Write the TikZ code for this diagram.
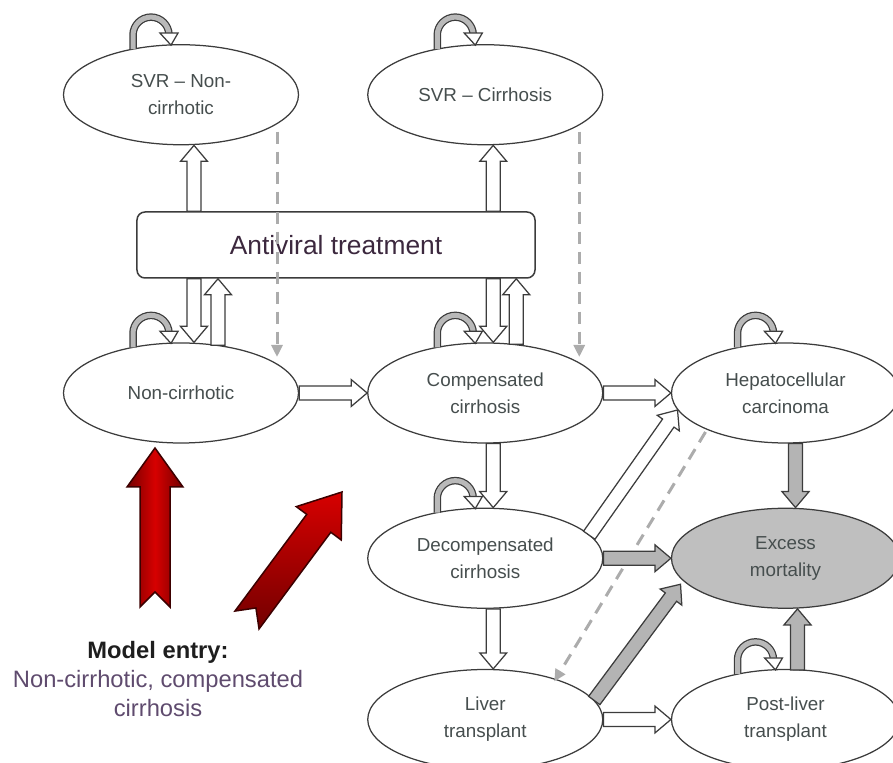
\documentclass[tikz,border=0pt]{standalone}
\usepackage{fontspec}
\setmainfont{Liberation Sans}
\usepackage{tikz}
\usetikzlibrary{arrows.meta,positioning,calc,shapes.geometric}
\definecolor{LineGrey}{RGB}{60,60,60}
\definecolor{TextGrey}{RGB}{70,78,78}
\definecolor{LoopGrey}{RGB}{185,185,185}
\definecolor{ArrowGrey}{RGB}{180,180,180}
\definecolor{DeathGrey}{RGB}{191,191,191}
\definecolor{DashGrey}{RGB}{172,172,172}
\definecolor{TreatText}{RGB}{60,40,62}
\definecolor{EntryBlack}{RGB}{30,30,30}
\definecolor{EntryPurple}{RGB}{95,75,110}
\definecolor{RedBright}{RGB}{215,0,0}
\definecolor{RedDark}{RGB}{115,0,0}
\definecolor{RedEdge}{RGB}{60,0,0}

% block arrow between two points: [style]{from}{to}
\newcommand{\blockarrow}[3][hollowarrow]{%
  \path (#2) coordinate (ba-s) (#3) coordinate (ba-e);
  \path ($(ba-e)!3.2mm!(ba-s)$) coordinate (ba-h);
  \filldraw[#1] ($(ba-s)!1.4mm!90:(ba-e)$) -- ($(ba-h)!1.4mm!90:(ba-e)$)
    -- ($(ba-h)!2.7mm!90:(ba-e)$) -- (ba-e) -- ($(ba-h)!2.7mm!-90:(ba-e)$)
    -- ($(ba-h)!1.4mm!-90:(ba-e)$) -- ($(ba-s)!1.4mm!-90:(ba-e)$) -- cycle;
}
% curved arrow back into the same state
\newcommand{\selfloop}[1]{%
  \begin{scope}[shift={(#1.north)}]
    \draw[loopband] (-48,-5) -- (-48,9) arc[start angle=180, end angle=0, radius=18];
    \filldraw[hollowarrow] (-21,11) -- (-3,11) -- (-10,-1) -- cycle;
  \end{scope}
}
% red entry arrow with notched tail: [shading]{tail}{tip}
\newcommand{\entryarrow}[3][redside]{%
  \path (#2) coordinate (ea-s) (#3) coordinate (ea-e);
  \path ($(ea-e)!7.8mm!(ea-s)$) coordinate (ea-h) ($(ea-s)!3mm!(ea-e)$) coordinate (ea-n);
  \shade[draw=RedEdge, line width=0.3mm, #1]
    ($(ea-s)!3mm!90:(ea-e)$) -- ($(ea-h)!3mm!90:(ea-e)$) -- ($(ea-h)!5.6mm!90:(ea-e)$)
    -- (ea-e) -- ($(ea-h)!5.6mm!-90:(ea-e)$) -- ($(ea-h)!3mm!-90:(ea-e)$)
    -- ($(ea-s)!3mm!-90:(ea-e)$) -- (ea-n) -- cycle;
}

\begin{document}
\begin{tikzpicture}[x=0.2mm, y=0.2mm,
    healthstate/.style={ellipse, draw=LineGrey, line width=0.25mm, fill=white, minimum width=47mm, minimum height=20mm, inner sep=1pt, align=center, text=TextGrey, font=\fontsize{10.7}{15.5}\selectfont},
    narrowstate/.style={healthstate, minimum width=45.6mm},
    deathstate/.style={narrowstate, fill=DeathGrey},
    treatbox/.style={draw=LineGrey, line width=0.3mm, fill=white, rounded corners=1.6mm, minimum width=79.6mm, minimum height=13.2mm, text=TreatText, font=\fontsize{15}{18}\selectfont},
    entrytext/.style={align=center, text=EntryBlack, font=\fontsize{13.5}{16.4}\selectfont},
    hollowarrow/.style={draw=LineGrey, line width=0.25mm, fill=white},
    greyarrow/.style={hollowarrow, fill=ArrowGrey},
    loopband/.style={draw=LineGrey, line width=0.25mm, double=LoopGrey, double distance=1mm},
    retreat/.style={draw=DashGrey, line width=0.6mm, dash pattern=on 2.4mm off 1.6mm, -{Triangle[width=2.2mm,length=2.4mm]}},
    redside/.style={left color=RedDark, right color=RedDark, middle color=RedBright},
    redslant/.style={top color=RedBright, bottom color=RedDark}]
    \useasboundingbox (0,0) rectangle (893,763);

    % states
    \node [healthstate] (nc) at (181,370) {Non-cirrhotic};
    \node [healthstate, right=13.6mm of nc] (cc) {Compensated\\cirrhosis};
    \node [narrowstate, right=13.5mm of cc] (hcc) {Hepatocellular\\carcinoma};
    \node [healthstate, below=12.8mm of cc] (dc) {Decompensated\\cirrhosis};
    \node [deathstate, below=12.8mm of hcc] (em) {Excess\\mortality};
    \node [healthstate, below=12mm of dc] (lt) {Liver\\transplant};
    \node [narrowstate, below=12mm of em] (plt) {Post-liver\\transplant};
    \node [healthstate, above=39.4mm of nc] (svrn) {SVR – Non-\\cirrhotic};
    \node [healthstate, above=39.4mm of cc] (svrc) {SVR – Cirrhosis};
    \node [treatbox] (av) at (336,518) {Antiviral treatment};
    \node [entrytext] (entry) at (158,84) {\textbf{Model entry:}\\\textcolor{EntryPurple}{Non-cirrhotic, compensated}\\\textcolor{EntryPurple}{cirrhosis}};

    % retreatment after SVR / recurrence after transplant
    \draw [retreat] ($(svrn.center)+(96,-37)$) -- ($(nc.center)+(96,36)$);
    \draw [retreat] ($(svrc.center)+(94,-37)$) -- ($(cc.center)+(94,36)$);
    \draw [retreat] ($(hcc.center)+(-80,-39)$) -- ($(lt.center)+(69,38)$);

    % treatment
    \blockarrow{$(av.north -| svrn.south)+(13,0)$}{$(svrn.south)+(13,0)$}
    \blockarrow{$(av.north -| svrc.south)+(8,0)$}{$(svrc.south)+(8,0)$}
    \blockarrow{$(av.south -| nc.north)+(13,0)$}{$(nc.north)+(13,0)$}
    \blockarrow{$(nc.north)+(37,-3)$}{$(av.south -| nc.north)+(37,0)$}
    \blockarrow{$(av.south -| cc.north)+(8,0)$}{$(cc.north)+(8,0)$}
    \blockarrow{$(cc.north)+(31,-2)$}{$(av.south -| cc.north)+(31,0)$}

    % progression
    \blockarrow{nc.east}{cc.west}
    \blockarrow{cc.east}{hcc.west}
    \blockarrow{$(cc.south)+(8,0)$}{$(dc.north)+(8,0)$}
    \blockarrow{$(dc.center)+(104,23)$}{$(hcc.center)+(-108,-17)$}
    \blockarrow{$(dc.south)+(8,0)$}{$(lt.north)+(8,0)$}
    \blockarrow{lt.east}{plt.west}

    % death
    \blockarrow[greyarrow]{$(hcc.south)+(10,0)$}{$(em.north)+(10,0)$}
    \blockarrow[greyarrow]{dc.east}{em.west}
    \blockarrow[greyarrow]{$(lt.center)+(109,19)$}{$(em.center)+(-105,-26)$}
    \blockarrow[greyarrow]{$(plt.north)+(12,-1)$}{$(em.south)+(12,0)$}

    % stay in state
    \selfloop{svrn}
    \selfloop{svrc}
    \selfloop{nc}
    \selfloop{cc}
    \selfloop{hcc}
    \selfloop{dc}
    \selfloop{plt}

    % model entry
    \coordinate (nc-in-tail) at (155,156);
    \coordinate (nc-in-tip) at (155,315);
    \coordinate (cc-in-tail) at (247,143);
    \coordinate (cc-in-tip) at (342,271);
    \entryarrow{nc-in-tail}{nc-in-tip}
    \entryarrow[redslant]{cc-in-tail}{cc-in-tip}
\end{tikzpicture}
\end{document}
